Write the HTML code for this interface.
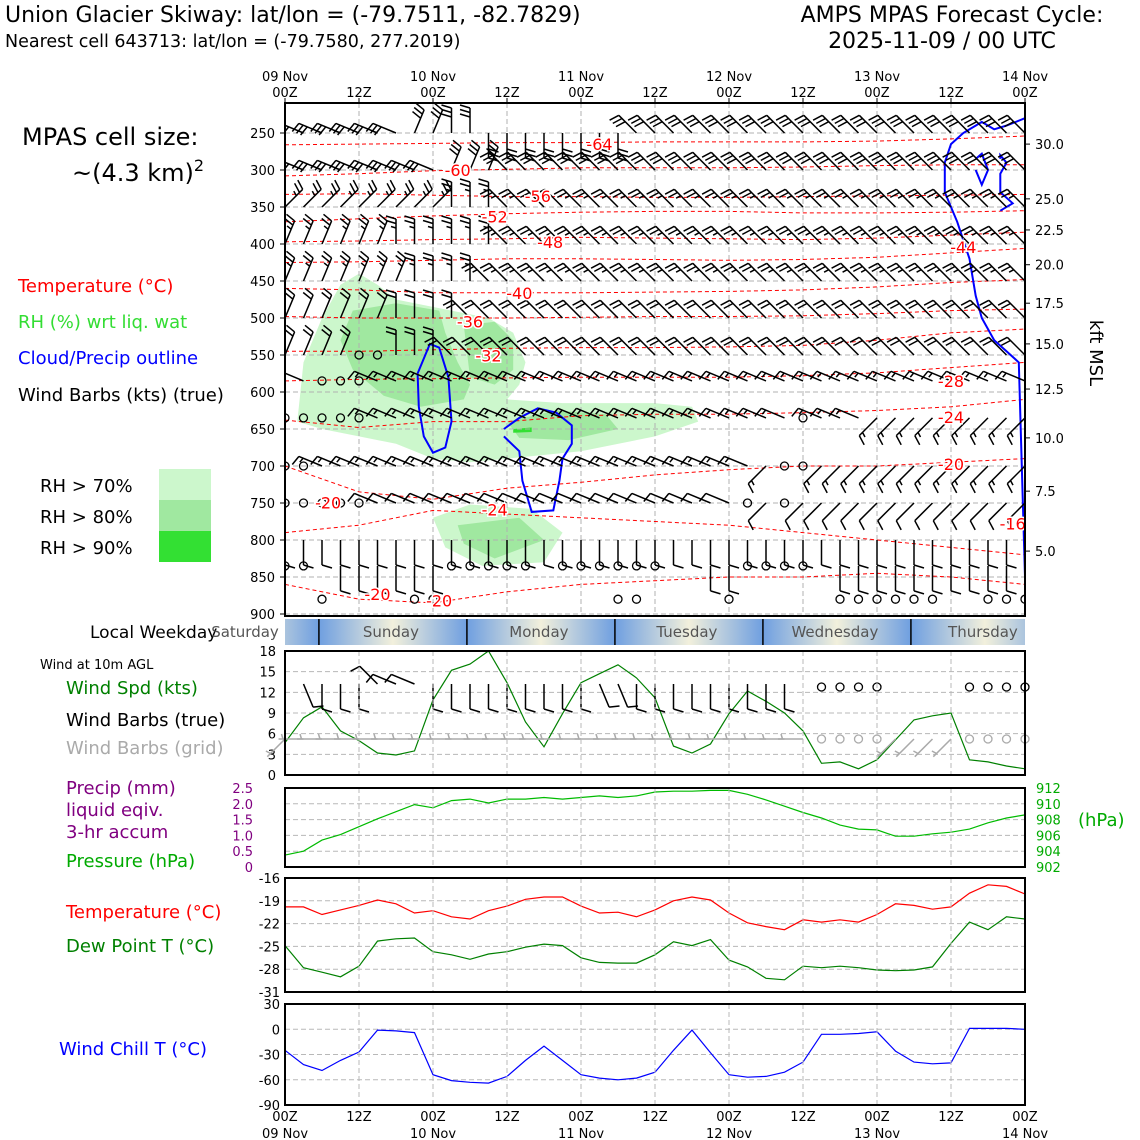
<!DOCTYPE html>
<html><head><meta charset="utf-8"><style>
html,body{margin:0;padding:0;background:#fff;}
svg{display:block;font-family:"DejaVu Sans","Liberation Sans",sans-serif;}
</style></head><body>
<svg id="s" width="1140" height="1140" viewBox="0 0 1140 1140" xmlns="http://www.w3.org/2000/svg">
<rect width="1140" height="1140" fill="#fff"/>
<text x="5" y="22" font-size="22">Union Glacier Skiway: lat/lon = (-79.7511, -82.7829)</text>
<text x="5" y="47" font-size="17.5">Nearest cell 643713: lat/lon = (-79.7580, 277.2019)</text>
<text x="952" y="22" font-size="22" text-anchor="middle">AMPS MPAS Forecast Cycle:</text>
<text x="942" y="48" font-size="22" text-anchor="middle">2025-11-09 / 00 UTC</text>
<text x="22" y="145" font-size="24">MPAS cell size:</text>
<text x="72" y="181" font-size="24">~(4.3 km)<tspan font-size="16" dy="-10">2</tspan></text>
<text x="18" y="292" font-size="18" fill="#ff0000">Temperature (°C)</text>
<text x="18" y="328" font-size="18" fill="#33dd33">RH (%) wrt liq. wat</text>
<text x="18" y="364" font-size="18" fill="#0000ff">Cloud/Precip outline</text>
<text x="18" y="401" font-size="18">Wind Barbs (kts) (true)</text>
<text x="40" y="492" font-size="18">RH &gt; 70%</text>
<text x="40" y="523" font-size="18">RH &gt; 80%</text>
<text x="40" y="554" font-size="18">RH &gt; 90%</text>
<rect x="159" y="469" width="52" height="31" fill="#ccf7cc"/>
<rect x="159" y="500" width="52" height="31" fill="#a0e8a0"/>
<rect x="159" y="531" width="52" height="31" fill="#33e033"/>
<text x="90" y="638" font-size="17">Local Weekday</text>
<text x="40" y="669" font-size="13">Wind at 10m AGL</text>
<text x="66" y="694" font-size="18" fill="#008000">Wind Spd (kts)</text>
<text x="66" y="726" font-size="18">Wind Barbs (true)</text>
<text x="66" y="754" font-size="18" fill="#aaaaaa">Wind Barbs (grid)</text>
<text x="66" y="794" font-size="18" fill="#800080">Precip (mm)</text>
<text x="66" y="816" font-size="18" fill="#800080">liquid eqiv.</text>
<text x="66" y="838" font-size="18" fill="#800080">3-hr accum</text>
<text x="66" y="867" font-size="18" fill="#00aa00">Pressure (hPa)</text>
<text x="66" y="918" font-size="18" fill="#ff0000">Temperature (°C)</text>
<text x="66" y="952" font-size="18" fill="#008000">Dew Point T (°C)</text>
<text x="59" y="1055" font-size="18" fill="#0000ff">Wind Chill T (°C)</text>
<text x="1078" y="826" font-size="18" fill="#00aa00">(hPa)</text>
<text x="1090" y="353" font-size="18" transform="rotate(90 1090 353)" text-anchor="middle">kft MSL</text>
<g id="g"></g>
</svg>
<script>
// ---------- data ----------
const hours = []; for (let i = 0; i <= 40; i++) hours.push(i * 3);
const windSpd = [4.7,8.3,9.9,6.4,5.0,3.2,2.9,3.5,10.9,15.2,16.1,18.0,13.4,7.7,4.1,8.9,13.4,14.7,16.0,14.1,11.2,4.2,3.2,4.5,8.9,12.2,10.7,9.0,6.4,1.7,1.9,0.9,2.2,5.1,8.0,8.6,9.0,2.2,1.9,1.3,0.9];
const pressure = [903.5,904.0,905.4,906.1,907.1,908.1,909.0,909.9,909.5,910.4,910.6,910.1,910.6,910.6,910.8,910.6,910.8,911.0,910.8,911.0,911.5,911.6,911.6,911.7,911.7,911.2,910.5,909.7,908.9,908.2,907.3,906.8,906.7,905.9,905.9,906.2,906.4,906.8,907.6,908.2,908.6];
const precip = new Array(41).fill(0);
const temp = [-19.8,-19.8,-20.8,-20.2,-19.6,-18.9,-19.4,-20.6,-20.3,-21.1,-21.4,-20.3,-19.7,-18.8,-18.5,-18.5,-19.7,-20.6,-20.5,-21.1,-20.2,-19.0,-18.5,-18.9,-20.6,-21.9,-22.4,-22.8,-21.5,-21.8,-21.5,-21.8,-20.8,-19.4,-19.6,-20.1,-19.8,-18.0,-16.9,-17.1,-18.1];
const dewp = [-24.9,-27.8,-28.4,-29.0,-27.6,-24.3,-24.0,-23.9,-25.7,-26.1,-26.7,-26.0,-25.7,-25.1,-24.7,-24.9,-26.5,-27.1,-27.2,-27.2,-26.1,-24.4,-24.9,-24.1,-26.8,-27.7,-29.2,-29.4,-27.6,-27.8,-27.6,-27.8,-28.1,-28.2,-28.1,-27.7,-24.6,-21.8,-22.8,-21.1,-21.4];
const windChill = [-25,-42,-49,-37,-27,-1,-2,-4,-54,-61,-63,-64,-56,-37,-20,-37,-54,-58,-60,-58,-51,-25,-1,-28,-54,-57,-56,-51,-39,-6,-6,-5,-3,-26,-39,-41,-40,1,1,1,0];
const dayLabels = ["Saturday","Sunday","Monday","Tuesday","Wednesday","Thursday"];
const dayBoundaryHours = [5.5,29.5,53.5,77.5,101.5];
const pLevels = [250,300,350,400,450,500,550,600,650,700,750,800,850,900];
const kftTicks = [30.0,25.0,22.5,20.0,17.5,15.0,12.5,10.0,7.5,5.0];
const kftPress = [265,339,381,428,480,535,596,662,734,815];
const contourLevels = [-64,-60,-56,-52,-48,-44,-40,-36,-32,-28,-24,-20,-24,-20];
const contourHours = [0,12,24,36,48,60,72,84,96,108,120];
const contourP = [
 [266,265,264,263,263,262,262,262,261,258,254],
 [308,305,301,299,297,297,297,296,294,293,293],
 [333,332,334,336,336,337,337,336,335,334,333],
 [370,366,362,359,357,356,356,358,358,357,355],
 [397,396,394,393,391,392,393,394,392,388,384],
 [425,424,422,420,420,421,422,421,418,412,406],
 [460,462,466,466,466,465,464,462,458,452,448],
 [498,500,500,500,499,498,498,497,494,490,488],
 [545,545,543,541,540,540,539,537,530,520,515],
 [585,583,582,581,580,580,580,578,574,567,560],
 [638,648,640,640,632,630,630,628,625,620,610],
 [700,735,745,730,722,712,705,700,700,695,690],
 [790,780,760,765,770,775,780,790,800,810,820],
 [860,880,885,870,860,855,850,850,845,850,860]];
const labelText = ["-64","-60","-56","-52","-48","-44","-40","-36","-32","-28","-24","-20","-24","-20","-20","-16","-20"];
const labelHour = [51,28,41,34,43,110,38,30,33,108,34,7,108,108,15,118,25];
const labelP = [265,300,335,363,397,404,466,505,551,585,759,749,634,697,873,778,882];
const rhLight = [[[2,640],[3,560],[6,500],[9,455],[12,440],[15,455],[18,475],[27,490],[33,500],[37,520],[39,560],[38,590],[36,610],[45,615],[60,615],[66,620],[67,640],[60,660],[48,680],[36,690],[30,695],[24,690],[18,670],[12,660],[6,650]],
 [[24,770],[30,752],[40,758],[45,790],[42,830],[32,835],[26,810]]];
const rhMed = [[[11,490],[18,480],[25,490],[26,520],[28,560],[30,590],[29,610],[22,620],[16,605],[11,570],[9,530]],
 [[29,510],[34,505],[37,530],[37,570],[34,590],[30,580]],
 [[36,640],[44,625],[52,630],[54,650],[46,665],[38,662]],
 [[28,780],[38,770],[42,800],[34,825],[29,805]]];
const rhDark = [[[37,650],[40,648],[40,654],[37,655]]];
const cloud = [[[21.5,575],[23.5,535],[25,540],[26.5,580],[27,640],[26,675],[24,682],[22.5,660],[21.7,620],[21.5,575]],
 [[35.5,650],[38,635],[41,622],[44,628],[46.5,645],[46.5,670],[45,690],[44.5,720],[43.5,760],[40,762],[38.5,720],[38,680],[35.5,660]],
 [[120,850],[119,560],[117,545],[115,530],[113,500],[112,470],[111,420],[109,370],[107,330],[107,290],[108,265],[110,250],[112,240],[113,235],[115,245],[117,240],[120,230]],
 [[116,285],[116,280],[117,290],[116,305],[116,330],[118,345],[116,355]],
 [[112,285],[113,278],[114,300],[113,320],[112,300]]];
// barb rows: pressure, speed (kt), run-length direction codes (a..p = 0..337.5 deg, o calm, . none)
const barbP = [250,300,350,400,450,500,550,585,635,700,750,800,835,880];
const barbSpd = [30,30,25,25,25,20,20,15,15,15,10,10,10,10];
const barbDir = [
 "h7d2e2m8g22",
 "h9d3g29",
 "c9e3g29",
 "d6e6g29",
 "d7e4g30",
 "d6e4g31",
 "d4o2e3g32",
 "h2o3h36",
 "o5h23o1h3k9",
 "o2h24k1o2k12",
 "o5h20o1k1o1k13",
 "m41",
 "o2.1m6o5.1o6.2m2o4.1m11",
 ".2o1.4o2.9o2.4o1.5o6.2o3"];
const sfcDir = ".1n1m3g1h2m9n2m9.1o4.4o4";
const sfcSpd = [10,10,10,10,10,10,10,10,10,10,10,10,10,10,10,10,10,10,10,10,10,10,10,10,10,10,10,10,10,0,0,0,0,10,10,10,10,0,0,0,0];
const gridDir = "k1i28o4k4o4";
const gridSpd = [5,5,5,5,5,5,5,5,5,5,5,5,5,5,5,5,5,5,5,5,5,5,5,5,5,5,5,5,5,0,0,0,0,5,5,5,5,0,0,0,0];

// ---------- helpers ----------
const NS = "http://www.w3.org/2000/svg";
const G = document.getElementById('g');
function mk(tag, attrs, parent) { const e = document.createElementNS(NS, tag); for (const k in attrs) e.setAttribute(k, attrs[k]); (parent || G).appendChild(e); return e; }
function rle(s) { let out = ''; const re = /([a-z.])(\d+)/g; let m; while ((m = re.exec(s))) out += m[1].repeat(+m[2]); return out.padEnd(41, '.').slice(0, 41); }
const X0 = 285, X1 = 1025;
const xh = h => X0 + (X1 - X0) * h / 120;
const yp = p => 133 + (p - 250) * 37 / 50;
const yWs = v => 775 - v * 124 / 18;
const yPr = v => 867 - (v - 902) * 7.9;
const yPc = v => 867 - v * 79 / 2.5;
const yT = v => 878 + (-16 - v) * 114 / 15;
const yWc = v => 1004 + (30 - v) * 101 / 120;
const panels = [[103, 616], [651, 775], [788, 867], [878, 992], [1004, 1105]];

const defs = mk('defs', {});
const cp = mk('clipPath', { id: 'cmain' }, defs); mk('rect', { x: X0, y: 103, width: X1 - X0, height: 513 }, cp);
const mainG = mk('g', { 'clip-path': 'url(#cmain)' });



function poly(pts, fill, name) {
  const d = pts.map((q, i) => (i ? 'L' : 'M') + xh(q[0]).toFixed(1) + ' ' + yp(q[1]).toFixed(1)).join(' ') + 'Z';
  const e = mk('path', { d: d, fill: fill }, mainG);
  
  
}
rhLight.forEach(s => poly(s, '#ccf7cc', 'rh-70-area'));
rhMed.forEach(s => poly(s, '#a0e8a0', 'rh-80-area'));
rhDark.forEach(s => poly(s, '#33e033', 'rh-90-area'));

for (let h = 12; h < 120; h += 12) {
  const l = mk('line', { x1: xh(h), x2: xh(h), y1: 103, y2: 616, stroke: '#b0b0b0', 'stroke-dasharray': '5,3' }, mainG);
  
  
}
pLevels.forEach(p => {
  const l = mk('line', { x1: X0, x2: X1, y1: yp(p), y2: yp(p), stroke: '#b0b0b0', 'stroke-dasharray': '5,3' }, mainG);
  
  
});
contourP.forEach((row, k) => {
  const d = row.map((p, i) => (i ? 'L' : 'M') + xh(contourHours[i]).toFixed(1) + ' ' + yp(p).toFixed(1)).join(' ');
  const e = mk('path', { d: d, fill: 'none', stroke: '#ff0000', 'stroke-width': 1, 'stroke-dasharray': '4,3' }, mainG);
  
  
});
cloud.forEach(s => {
  const d = s.map((q, i) => (i ? 'L' : 'M') + xh(q[0]).toFixed(1) + ' ' + yp(q[1]).toFixed(1)).join(' ');
  const e = mk('path', { d: d, fill: 'none', stroke: '#0000ff', 'stroke-width': 2 }, mainG);
  
  
});
function barb(parent, sx, sy, code, spd, color, name, side) {
  if (code === '.') return;
  if (code === 'o' || spd < 2.5) {
    const c = mk('circle', { cx: sx, cy: sy, r: 4, fill: 'none', stroke: color, 'stroke-width': 1.3 }, parent);
    
    
    return;
  }
  const a = (code.charCodeAt(0) - 97) * 22.5 * Math.PI / 180;
  const ux = Math.cos(a), uy = -Math.sin(a);
  const L = 25, tx = sx + ux * L, ty = sy + uy * L;
  const px = uy * side, py = -ux * side;
  let d = `M${sx.toFixed(1)} ${sy.toFixed(1)}L${tx.toFixed(1)} ${ty.toFixed(1)}`;
  let rem = Math.round(spd / 5) * 5, pos = 0;
  while (rem >= 10) {
    const bx = tx - ux * pos, by = ty - uy * pos;
    d += `M${bx.toFixed(1)} ${by.toFixed(1)}l${(px * 10 + ux * 3).toFixed(1)} ${(py * 10 + uy * 3).toFixed(1)}`;
    rem -= 10; pos += 4.5;
  }
  if (rem >= 5) {
    if (pos === 0) pos = 4.5;
    const bx = tx - ux * pos, by = ty - uy * pos;
    d += `M${bx.toFixed(1)} ${by.toFixed(1)}l${(px * 5 + ux * 1.5).toFixed(1)} ${(py * 5 + uy * 1.5).toFixed(1)}`;
  }
  const e = mk('path', { d: d, fill: 'none', stroke: color, 'stroke-width': 1.5 }, parent);
  
  
}
barbP.forEach((p, r) => {
  const codes = rle(barbDir[r]);
  for (let i = 0; i <= 40; i++) barb(mainG, xh(hours[i]), yp(p), codes[i], barbSpd[r], '#000', 'wind-barb', 1);
});
labelText.forEach((t, i) => {
  const e = mk('text', { x: xh(labelHour[i]), y: yp(labelP[i]) + 6, 'font-size': 16, fill: '#ff0000', 'text-anchor': 'middle', stroke: '#fff', 'stroke-width': 3, 'paint-order': 'stroke' }, mainG);
  e.textContent = t;
  
  
});

const fr = mk('rect', { x: X0, y: 103, width: X1 - X0, height: 513, fill: 'none', stroke: '#000', 'stroke-width': 2 });


pLevels.forEach(p => {
  const t = mk('text', { x: 275, y: yp(p) + 5, 'font-size': 13, 'text-anchor': 'end' });
  t.textContent = p;
  
  
  mk('line', { x1: X0 - 5, x2: X0, y1: yp(p), y2: yp(p), stroke: '#000' });
});
kftTicks.forEach((k, i) => {
  const y = yp(kftPress[i]);
  mk('line', { x1: X1, x2: X1 + 5, y1: y, y2: y, stroke: '#000' });
  const t = mk('text', { x: 1035, y: y + 5, 'font-size': 13 });
  t.textContent = k.toFixed(1);
  
  
});
const dates = ['09 Nov', '10 Nov', '11 Nov', '12 Nov', '13 Nov', '14 Nov'];
for (let h = 0; h <= 120; h += 12) {
  const x = xh(h), z = (h % 24 === 0) ? '00Z' : '12Z';
  mk('line', { x1: x, x2: x, y1: 98, y2: 103, stroke: '#000' });
  const t = mk('text', { x: x, y: 97, 'font-size': 13, 'text-anchor': 'middle' });
  t.textContent = z;
  
  
  const b = mk('text', { x: x, y: 1121, 'font-size': 13, 'text-anchor': 'middle' });
  b.textContent = z;
  
  
  if (h % 24 === 0) {
    const t2 = mk('text', { x: x, y: 81, 'font-size': 13, 'text-anchor': 'middle' });
    t2.textContent = dates[h / 24];
    
    
    const b2 = mk('text', { x: x, y: 1138, 'font-size': 13, 'text-anchor': 'middle' });
    b2.textContent = dates[h / 24];
    
    
  }
}

const gr = mk('linearGradient', { id: 'dayg', x1: 0, x2: 1, y1: 0, y2: 0 }, defs);
mk('stop', { offset: '0', 'stop-color': '#6f9fe0' }, gr);
mk('stop', { offset: '0.5', 'stop-color': '#f2f0dc' }, gr);
mk('stop', { offset: '1', 'stop-color': '#6f9fe0' }, gr);
const bnd = [-18.5].concat(dayBoundaryHours).concat([125.5]);
const cw = mk('clipPath', { id: 'cday' }, defs); mk('rect', { x: X0, y: 619, width: X1 - X0, height: 26 }, cw);
const dayG = mk('g', { 'clip-path': 'url(#cday)' });
for (let i = 0; i < bnd.length - 1; i++) {
  const r = mk('rect', { x: xh(bnd[i]), y: 619, width: xh(bnd[i + 1]) - xh(bnd[i]), height: 26, fill: 'url(#dayg)' }, dayG);
  
  
}
dayBoundaryHours.forEach(h => mk('line', { x1: xh(h), x2: xh(h), y1: 619, y2: 645, stroke: '#000', 'stroke-width': 1.5 }));
dayLabels.forEach((d, i) => {
  const c = i === 0 ? 245 : (xh(bnd[i]) + xh(bnd[i + 1])) / 2 - 2;
  const t = mk('text', { x: c, y: 637, 'font-size': 15, fill: '#555', 'text-anchor': 'middle' });
  t.textContent = d;
  
  
});

function panelFrame(i, name) {
  const [a, b] = panels[i];
  for (let h = 12; h < 120; h += 12) mk('line', { x1: xh(h), x2: xh(h), y1: a, y2: b, stroke: '#b8b8b8', 'stroke-dasharray': '5,3' });
  const r = mk('rect', { x: X0, y: a, width: X1 - X0, height: b - a, fill: 'none', stroke: '#000', 'stroke-width': 2 });
  
  
}
function hgrid(y, lbl, x, color, anchor, name) {
  mk('line', { x1: X0, x2: X1, y1: y, y2: y, stroke: '#b8b8b8', 'stroke-dasharray': '5,3' });
  const t = mk('text', { x: x, y: y + 5, 'font-size': 13, fill: color, 'text-anchor': anchor });
  t.textContent = lbl;
  
  
}
function line(vals, yf, color, name) {
  const d = vals.map((v, i) => (i ? 'L' : 'M') + xh(hours[i]).toFixed(1) + ' ' + yf(v).toFixed(1)).join(' ');
  const e = mk('path', { d: d, fill: 'none', stroke: color, 'stroke-width': 1.2 });
  
  
}
[0, 3, 6, 9, 12, 15, 18].forEach(v => hgrid(yWs(v), v, 276, '#000', 'end', 'wind-tick-label'));
line(windSpd, yWs, '#008000', 'wind-speed-line');
const sfcCodes = rle(sfcDir), gridCodes = rle(gridDir);
for (let i = 0; i <= 40; i++) {
  barb(G, xh(hours[i]), sfcCodes[i] === 'o' ? 687 : 684, sfcCodes[i], sfcSpd[i], '#000', 'sfc-barb-true', 1);
  barb(G, xh(hours[i]), 739, gridCodes[i], gridSpd[i], '#aaaaaa', 'sfc-barb-grid', -1);
}
panelFrame(1, 'wind-panel-frame');
[0, 0.5, 1.0, 1.5, 2.0, 2.5].forEach(v => {
  const t = mk('text', { x: 253, y: yPc(v) + 5, 'font-size': 13, fill: '#800080', 'text-anchor': 'end' });
  t.textContent = v === 0 ? '0' : v.toFixed(1);
  
  
});
[902, 904, 906, 908, 910, 912].forEach(v => hgrid(yPr(v), v, 1036, '#00aa00', 'start', 'pressure-tick-label'));
line(precip, yPc, '#800080', 'precip-line');
line(pressure, yPr, '#00bb00', 'pressure-line');
panelFrame(2, 'pressure-panel-frame');
[-16, -19, -22, -25, -28, -31].forEach(v => hgrid(yT(v), v, 280, '#000', 'end', 'temp-tick-label'));
line(temp, yT, '#ff0000', 'temperature-line');
line(dewp, yT, '#008000', 'dewpoint-line');
panelFrame(3, 'temp-panel-frame');
[30, 0, -30, -60, -90].forEach(v => hgrid(yWc(v), v, 280, '#000', 'end', 'windchill-tick-label'));
line(windChill, yWc, '#0000ff', 'windchill-line');
panelFrame(4, 'windchill-panel-frame');
</script>
</body></html>
